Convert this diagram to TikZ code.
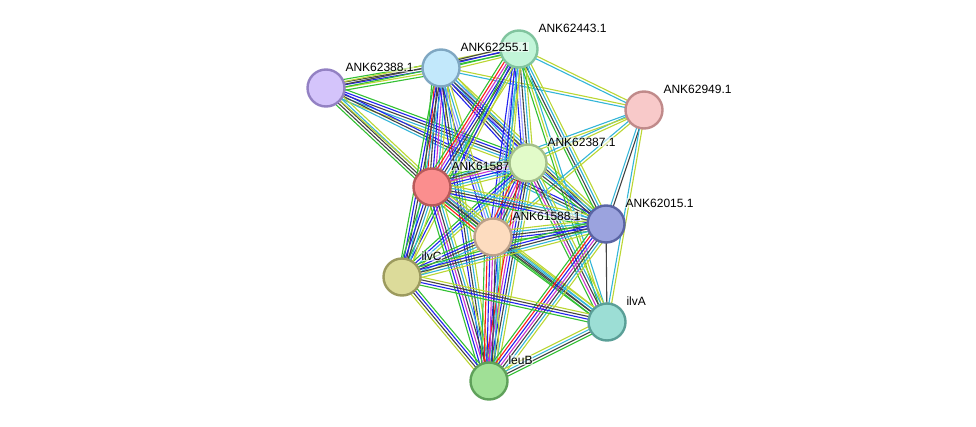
\documentclass[tikz,border=0pt]{standalone}
\usepackage{fontspec}
\setmainfont{Liberation Sans}
\usetikzlibrary{calc}
\pgfdeclarelayer{background}
\pgfsetlayers{background,main}
\definecolor{sgreen}{HTML}{33C033}
\definecolor{sred}{HTML}{FF1A1A}
\definecolor{sblue}{HTML}{2222EE}
\definecolor{sblack}{HTML}{444444}
\definecolor{smag}{HTML}{CC33CC}
\definecolor{scyan}{HTML}{33B5D8}
\definecolor{syel}{HTML}{BBD633}
\definecolor{slav}{HTML}{9A9AFF}
\definecolor{f443}{HTML}{C2F5D9}\definecolor{d443}{HTML}{80C49E}
\definecolor{f255}{HTML}{C2E8FB}\definecolor{d255}{HTML}{7FA7C2}
\definecolor{f388}{HTML}{D4C4FB}\definecolor{d388}{HTML}{9381C3}
\definecolor{f949}{HTML}{F8C9C9}\definecolor{d949}{HTML}{C08A8A}
\definecolor{f587}{HTML}{FB8E8E}\definecolor{d587}{HTML}{B85A5A}
\definecolor{f387}{HTML}{E2FBC9}\definecolor{d387}{HTML}{A4BF8A}
\definecolor{f588}{HTML}{FDDCBF}\definecolor{d588}{HTML}{BCA189}
\definecolor{f015}{HTML}{9BA3DE}\definecolor{d015}{HTML}{5A64A3}
\definecolor{fivC}{HTML}{DCDB9A}\definecolor{divC}{HTML}{9C9A5E}
\definecolor{fivA}{HTML}{9CDED5}\definecolor{divA}{HTML}{5A9F97}
\definecolor{fleu}{HTML}{A0E096}\definecolor{dleu}{HTML}{5FA15A}
\newcommand\stredge[4]{%
  \foreach \cc [count=\ii] in {#4} {%
    \pgfmathsetmacro\off{(\ii-(#3+1)/2)*2.7}%
    \draw[\cc, line width=1.1pt] ($(#1.center)!\off pt!90:(#2.center)$) -- ($(#2.center)!\off pt!-90:(#1.center)$);
  }}
\tikzset{
  prot/.style n args={2}{circle, minimum size=37pt, inner sep=0pt, line width=2.4pt, fill=#1, draw=#2},
}
\newcommand\plabel[3]{\node[anchor=base west, font=\fontsize{12}{14}\selectfont, fill=white, fill opacity=0.55, text opacity=1, inner sep=0.8pt] (#1) at ($(#2.center)+(18.5,-16.5)$) {#3};}
\begin{document}
\begin{tikzpicture}[x=1pt,y=-1pt]
\useasboundingbox (0,0) rectangle (976,427);
% nodes
\node[prot={f443}{d443}] (n443) at (519,49) {};
\node[prot={f255}{d255}] (n255) at (441,68) {};
\node[prot={f388}{d388}] (n388) at (326,88) {};
\node[prot={f949}{d949}] (n949) at (644,110) {};
\node[prot={f587}{d587}] (n587) at (432,187) {};
\plabel{l587}{n587}{ANK61587.1}
\node[prot={f387}{d387}] (n387) at (528,163) {};
\node[prot={f588}{d588}] (n588) at (493,237) {};
\node[prot={f015}{d015}] (n015) at (606,224) {};
\node[prot={fivC}{divC}] (ilvC) at (402,277) {};
\node[prot={fivA}{divA}] (ilvA) at (607,322) {};
\node[prot={fleu}{dleu}] (leuB) at (489,381) {};
\plabel{l443}{n443}{ANK62443.1}
\plabel{l255}{n255}{ANK62255.1}
\plabel{l388}{n388}{ANK62388.1}
\plabel{l949}{n949}{ANK62949.1}
\plabel{l387}{n387}{ANK62387.1}
\plabel{l588}{n588}{ANK61588.1}
\plabel{l015}{n015}{ANK62015.1}
\plabel{lilvC}{ilvC}{ilvC}
\plabel{lilvA}{ilvA}{ilvA}
\plabel{lleuB}{leuB}{leuB}
\begin{pgfonlayer}{background}
\stredge{n388}{n255}{5}{sgreen,syel,sblue,sblack,sgreen}
\stredge{n388}{n443}{3}{sgreen,sblack,syel}
\stredge{n388}{n387}{5}{syel,scyan,sblack,sblue,sgreen}
\stredge{n388}{n015}{3}{scyan,sblack,sblue}
\stredge{n388}{n587}{5}{sgreen,sblack,sblack,scyan,syel}
\stredge{n388}{n588}{1}{syel}
\stredge{n255}{n443}{4}{syel,sgreen,sblue,sblack}
\stredge{n255}{n949}{2}{scyan,syel}
\stredge{n255}{n387}{5}{sblue,sblack,scyan,slav,syel}
\stredge{n255}{n587}{7}{sgreen,sred,sblack,sblue,smag,scyan,syel}
\stredge{n255}{n588}{4}{sblue,slav,scyan,syel}
\stredge{n255}{n015}{4}{sblue,sblack,scyan,syel}
\stredge{n255}{ilvC}{4}{sgreen,sblue,sblack,scyan}
\stredge{n255}{leuB}{4}{sblue,sblack,scyan,syel}
\stredge{n443}{n949}{2}{scyan,syel}
\stredge{n443}{n387}{5}{sblue,slav,sblack,scyan,syel}
\stredge{n443}{n587}{7}{sgreen,sred,smag,sblue,sblack,scyan,syel}
\stredge{n443}{n588}{4}{sblue,slav,scyan,syel}
\stredge{n443}{n015}{4}{sgreen,sblack,scyan,syel}
\stredge{n443}{ilvC}{3}{sgreen,sblue,syel}
\stredge{n443}{leuB}{3}{sblue,scyan,syel}
\stredge{n443}{ilvA}{3}{sgreen,syel,scyan}
\stredge{n949}{n387}{2}{scyan,syel}
\stredge{n949}{n587}{2}{scyan,syel}
\stredge{n949}{n588}{2}{scyan,syel}
\stredge{n949}{n015}{2}{scyan,sblack}
\stredge{n949}{ilvA}{2}{scyan,syel}
\stredge{n387}{n587}{6}{sgreen,sblack,smag,sblue,scyan,syel}
\stredge{n387}{n588}{6}{sred,sblue,smag,sblack,scyan,syel}
\stredge{n387}{n015}{4}{sgreen,sblack,scyan,syel}
\stredge{n387}{ilvC}{4}{sgreen,sblue,scyan,syel}
\stredge{n387}{leuB}{6}{sred,smag,sblue,sblack,scyan,syel}
\stredge{n387}{ilvA}{5}{sgreen,smag,sblack,scyan,syel}
\stredge{n587}{n588}{7}{sgreen,sred,sblue,sblack,smag,scyan,syel}
\stredge{n587}{n015}{5}{sgreen,sblue,sblack,scyan,syel}
\stredge{n587}{ilvC}{5}{sgreen,sblue,sblack,scyan,syel}
\stredge{n587}{leuB}{6}{sgreen,sblue,smag,sblack,scyan,syel}
\stredge{n587}{ilvA}{4}{sgreen,sblack,scyan,syel}
\stredge{n588}{n015}{5}{sgreen,sblue,sblack,scyan,syel}
\stredge{n588}{ilvC}{5}{sgreen,sblue,sblack,scyan,syel}
\stredge{n588}{leuB}{7}{sgreen,sred,sblue,smag,sblack,scyan,syel}
\stredge{n588}{ilvA}{4}{sgreen,sblack,scyan,syel}
\stredge{n015}{ilvC}{5}{sgreen,sblue,sblack,scyan,syel}
\stredge{n015}{leuB}{7}{sgreen,sred,sblue,smag,sblack,scyan,syel}
\stredge{n015}{ilvA}{1}{sblack}
\stredge{ilvC}{leuB}{4}{syel,sblack,sblue,sgreen}
\stredge{ilvC}{ilvA}{4}{sgreen,sblue,sblack,syel}
\stredge{leuB}{ilvA}{4}{sgreen,sblack,scyan,syel}
\end{pgfonlayer}
\end{tikzpicture}
\end{document}
